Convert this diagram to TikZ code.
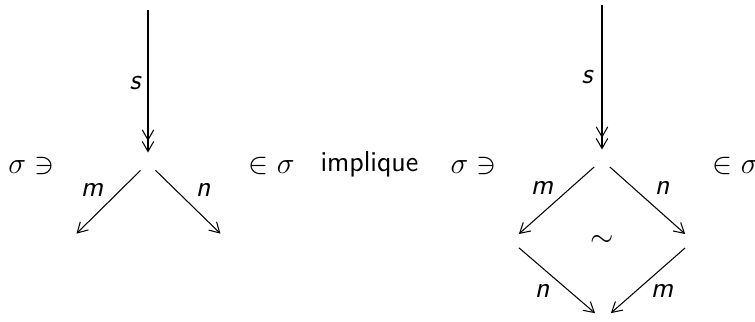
\documentclass[tikz,border=0pt]{standalone}
\usepackage{fontspec}
\usetikzlibrary{arrows.meta}
\begin{document}
\begin{tikzpicture}[x=0.4pt,y=-0.4pt,
  font=\fontsize{11.5}{14}\selectfont,
  obj/.style={circle,minimum size=8pt,inner sep=0pt},
  arr/.style={line width=0.42pt,-{Straight Barb[length=4pt,width=4.6pt]}},
  epi/.style={line width=0.42pt,-{Straight Barb[length=4pt,width=4.6pt]Straight Barb[length=4pt,width=4.6pt]}},
  lab/.style={inner sep=0pt,font=\fontsize{11.5}{14}\selectfont\sffamily\itshape},
  txt/.style={inner sep=0pt,anchor=base west}]
\useasboundingbox (0,0) rectangle (755,321);
% left diagram
\coordinate (L0) at (148,10);
\node[obj] (L1) at (148,163) {};
\node[obj] (L2) at (69,241) {};
\node[obj] (L3) at (228,241) {};
\draw[epi] (L0) -- (L1);
\draw[arr] (L1) -- (L2);
\draw[arr] (L1) -- (L3);
\node[lab] (ls) at (135,83) {s};
\node[lab] (lm) at (92,190) {m};
\node[lab] (ln) at (203,190) {n};
% texts
\node[txt] (t1) at (8,173) {$\sigma\ni$};
\node[txt] (t2) at (248,173) {$\in\sigma$};
\node[txt] (t3) at (320,171) {\sffamily implique};
\node[txt] (t4) at (450,173) {$\sigma\ni$};
\node[txt] (t5) at (712,173) {$\in\sigma$};
% right diagram
\coordinate (R0) at (602,5);
\node[obj] (R1) at (602,160) {};
\node[obj] (R2) at (511,241) {};
\node[obj] (R3) at (693,241) {};
\node[obj] (R4) at (603,320) {};
\draw[epi] (R0) -- (R1);
\draw[arr] (R1) -- (R2);
\draw[arr] (R1) -- (R3);
\draw[arr] (R2) -- (R4);
\draw[arr] (R3) -- (R4);
\node[lab] (rs) at (587,77) {s};
\node[lab] (rm) at (542,188) {m};
\node[lab] (rn) at (662,188) {n};
\node[lab] (rn2) at (542,291) {n};
\node[lab] (rm2) at (662,291) {m};
\node[inner sep=0pt] (sim) at (602,241) {$\sim$};
\end{tikzpicture}
\end{document}
